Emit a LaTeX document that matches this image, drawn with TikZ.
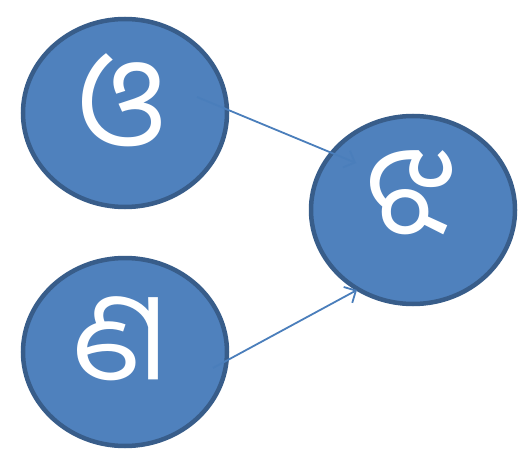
\documentclass[tikz,border=0pt]{standalone}
\usepackage{fontspec}
\usetikzlibrary{shapes.geometric,arrows.meta}
\newfontfamily\oriya[Script=Oriya]{Noto Sans Oriya UI}
\definecolor{bubblefill}{HTML}{4F81BD}
\definecolor{bubbleline}{HTML}{385D8A}
\definecolor{linkline}{HTML}{4A7EBB}
\tikzset{
  bubble/.style={ellipse, draw=bubbleline, fill=bubblefill, line width=4.5pt,
    minimum width=204pt, minimum height=188pt, inner sep=0pt},
  glyph/.style={text=white, inner sep=0pt, font=\oriya\fontsize{125}{125}\selectfont},
  link/.style={draw=linkline, line width=1.8pt, -{Straight Barb[length=9pt,width=18pt]}}
}
\begin{document}
\begin{tikzpicture}[x=1pt,y=-1pt]
  \useasboundingbox (0,0) rectangle (529,454);
  \node[bubble] (o)  at (125,113) {};
  \node[bubble] (nn) at (125,352) {};
  \node[bubble] (jh) at (413,210) {};
  \node[glyph] (o-txt)  at (122,106) {ଓ};
  \node[glyph] (nn-txt) at (120,344) {ଣ};
  \node[glyph] (jh-txt) at (410,198) {ଝ};
  % ends of the links
  \coordinate (o-out)  at (197,97);
  \coordinate (nn-out) at (213,368);
  \coordinate (jh-in1) at (356,163);
  \coordinate (jh-in2) at (357,290);
  \draw[link] (o-out) -- (jh-in1);
  \draw[link] (nn-out) -- (jh-in2);
\end{tikzpicture}
\end{document}
